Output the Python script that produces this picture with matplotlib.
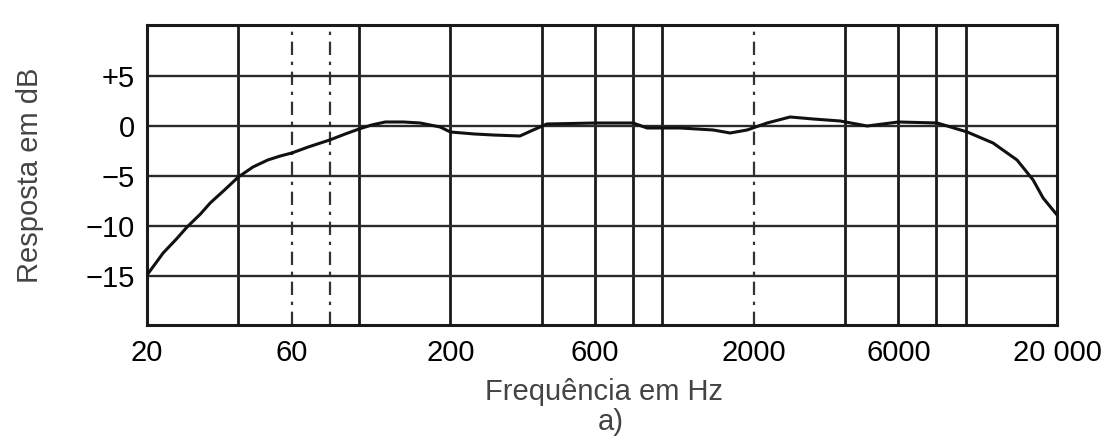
import numpy as np
import matplotlib
matplotlib.use('Agg')
from matplotlib import pyplot as plt

plt.rcParams['font.family'] = ['Liberation Sans', 'DejaVu Sans']

# curva de resposta (Hz, dB)
freq = [20, 22.6, 25, 27.1, 30, 32.3, 36, 40, 44.7, 50, 55, 60, 68, 80, 90, 100, 110, 122,
        140, 159, 185, 200, 240, 276, 339, 375, 416, 600, 800, 890, 1144, 1470, 1672, 1902,
        2214, 2636, 3140, 3854, 4732, 6000, 8052, 10110, 12300, 14760, 16680, 17990, 20000]
resp = [-14.9, -12.7, -11.3, -10.1, -8.8, -7.7, -6.4, -5.1, -4.1, -3.4, -3.0, -2.7, -2.1,
        -1.4, -0.8, -0.3, 0.1, 0.4, 0.4, 0.3, -0.1, -0.6, -0.8, -0.9, -1.0, -0.4, 0.2, 0.3,
        0.3, -0.2, -0.2, -0.4, -0.7, -0.4, 0.3, 0.9, 0.7, 0.5, 0.0, 0.4, 0.3, -0.6, -1.7,
        -3.4, -5.4, -7.2, -8.9]

xticks = [20, 60, 200, 600, 2000, 6000, 20000]
xticklabels = ['20', '60', '200', '600', '2000', '6000', '20 000']
yticks = [5, 0, -5, -10, -15]
yticklabels = ['+5', '0', '\u22125', '\u221210', '\u221215']
grid_solid = [40, 100, 200, 400, 600, 800, 1000, 4000, 6000, 8000, 10000]
grid_dash = [60, 80, 2000]

fig = plt.figure(figsize=(11.2, 4.4), dpi=100)
ax = fig.add_axes([0.1313, 0.2614, 0.8125, 0.6818])
ax.set_xscale('log')
ax.set_xlim(20, 20000)
ax.set_ylim(-19.9, 10.1)

for f in grid_solid:
    ax.axvline(f, color='#1a1a1a', lw=2.0, zorder=1)
for f in grid_dash:
    ax.axvline(f, color='#333333', lw=1.6, ls=(0, (6, 3, 1.5, 3)), zorder=1)
for y in yticks:
    ax.axhline(y, color='#2a2a2a', lw=1.7, zorder=1)

ax.plot(freq, resp, color='#111111', lw=2.2, zorder=3)

for s in ax.spines.values():
    s.set_linewidth(2.2)
    s.set_color('#1a1a1a')

ax.set_xticks(xticks)
ax.set_xticklabels(xticklabels, fontsize=21, color='black')
ax.xaxis.set_minor_locator(matplotlib.ticker.NullLocator())
ax.set_yticks(yticks)
ax.set_yticklabels(yticklabels, fontsize=21, color='black')
ax.tick_params(length=0, pad=9)
ax.tick_params(axis='x', pad=10)

ax.set_ylabel('Resposta em dB', fontsize=21, color='#444444', labelpad=30)
fig.text(0.539, 0.108, 'Frequência em Hz', fontsize=21, color='#444444', ha='center', va='center')
fig.text(0.545, 0.04, 'a)', fontsize=21, color='#444444', ha='center', va='center')

fig.savefig('out.png', dpi=100)
